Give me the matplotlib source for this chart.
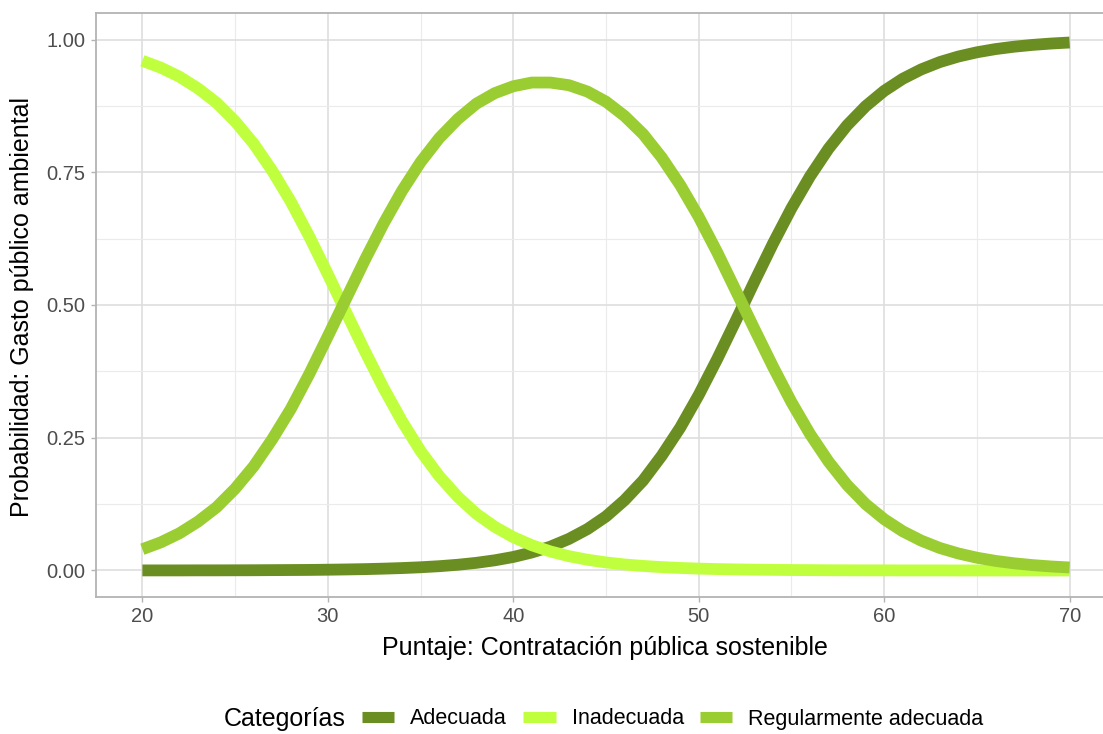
# Predicted probabilities: Gasto publico ambiental vs Contratacion publica sostenible
import matplotlib.pyplot as plt
from matplotlib.lines import Line2D
from matplotlib.ticker import MultipleLocator

plt.rcParams['font.family'] = ['Liberation Sans', 'DejaVu Sans']

puntaje = list(range(20, 71))

adecuada = [0.0001, 0.0001, 0.0001, 0.0002, 0.0002, 0.0003, 0.0004, 0.0006, 0.0008, 0.0010,
            0.0014, 0.0019, 0.0025, 0.0034, 0.0045, 0.0060, 0.0080, 0.0107, 0.0143, 0.0191,
            0.0254, 0.0339, 0.0448, 0.0594, 0.0780, 0.1017, 0.1323, 0.1694, 0.2159, 0.2689,
            0.3305, 0.3985, 0.4705, 0.5439, 0.6154, 0.6823, 0.7423, 0.7945, 0.8384, 0.8744,
            0.9033, 0.9261, 0.9438, 0.9576, 0.9680, 0.9760, 0.9820, 0.9865, 0.9899, 0.9925,
            0.9944]

inadecuada = [0.960, 0.947, 0.930, 0.908, 0.881, 0.846, 0.804, 0.753, 0.695, 0.629,
              0.558, 0.485, 0.413, 0.344, 0.281, 0.225, 0.178, 0.139, 0.107, 0.0823,
              0.0627, 0.0475, 0.0358, 0.0269, 0.0202, 0.0151, 0.0113, 0.0085, 0.0063, 0.0047,
              0.0035, 0.0026, 0.0020, 0.0015, 0.0011, 0.0008, 0.0006, 0.0004, 0.0003, 0.0002,
              0.0002, 0.0001, 0.0001, 0.0001, 0.0, 0.0, 0.0, 0.0, 0.0, 0.0,
              0.0]

regular = [0.040, 0.053, 0.070, 0.092, 0.119, 0.154, 0.196, 0.247, 0.304, 0.370,
           0.441, 0.513, 0.585, 0.653, 0.715, 0.769, 0.814, 0.850, 0.879, 0.899,
           0.912, 0.919, 0.919, 0.914, 0.902, 0.883, 0.856, 0.822, 0.778, 0.726,
           0.666, 0.599, 0.527, 0.455, 0.384, 0.317, 0.257, 0.205, 0.161, 0.125,
           0.0965, 0.0738, 0.0561, 0.0423, 0.0320, 0.0240, 0.0180, 0.0135, 0.0101, 0.0075,
           0.0056]

categorias = ['Adecuada', 'Inadecuada', 'Regularmente adecuada']
colores = ['#6B8E23', '#C0FF3E', '#9ACD32']
series = [adecuada, inadecuada, regular]

fig = plt.figure(figsize=(11.03, 7.34), dpi=100)
ax = fig.add_axes([96 / 1103, 1 - 597 / 734, 1020 / 1103, 584 / 734])

for vals, col in zip(series, colores):
    ax.plot(puntaje, vals, color=col, linewidth=8.5, solid_capstyle='butt', zorder=3)

ax.set_xlim(17.5, 72.5)
ax.set_ylim(-0.05, 1.05)
ax.xaxis.set_major_locator(MultipleLocator(10))
ax.xaxis.set_minor_locator(MultipleLocator(5))
ax.yaxis.set_major_locator(MultipleLocator(0.25))
ax.yaxis.set_minor_locator(MultipleLocator(0.125))
ax.yaxis.set_major_formatter(plt.FuncFormatter(lambda v, p: f'{v:.2f}'))

ax.grid(which='major', color='#DEDEDE', linewidth=1.2, zorder=0)
ax.grid(which='minor', color='#EBEBEB', linewidth=0.8, zorder=0)
ax.set_axisbelow(True)
for side in ['left', 'top', 'bottom']:
    ax.spines[side].set_color('#B3B3B3')
    ax.spines[side].set_linewidth(1.3)
ax.spines['right'].set_visible(False)
ax.tick_params(which='major', length=3.5, width=1, color='#B3B3B3', labelcolor='#4D4D4D',
               labelsize=14.5, pad=4)
ax.tick_params(which='minor', length=0)

ax.set_xlabel('Puntaje: Contratación pública sostenible', fontsize=18)
ax.set_ylabel('Probabilidad: Gasto público ambiental', fontsize=18)
ax.xaxis.set_label_coords((605 - 96) / 1020, (597 - 648) / 584)
ax.xaxis.label.set_va('center')
ax.yaxis.set_label_coords((22 - 96) / 1020, (597 - 307) / 584)
ax.yaxis.label.set_va('center')

# legend: title on the left, entries in one row
fig.text(224 / 1103, 1 - 719 / 734, 'Categorías', fontsize=18, va='center', ha='left')
handles = [Line2D([0], [0], color=c, linewidth=8, solid_capstyle='butt') for c in colores]
fig.legend(handles, categorias, loc='center left', bbox_to_anchor=(362 / 1103, 1 - 719 / 734),
           ncol=3, frameon=False, fontsize=15.5, handlelength=1.5, handletextpad=0.75,
           columnspacing=0.75, borderaxespad=0, borderpad=0)

plt.savefig('out.png', dpi=100)
plt.close()
